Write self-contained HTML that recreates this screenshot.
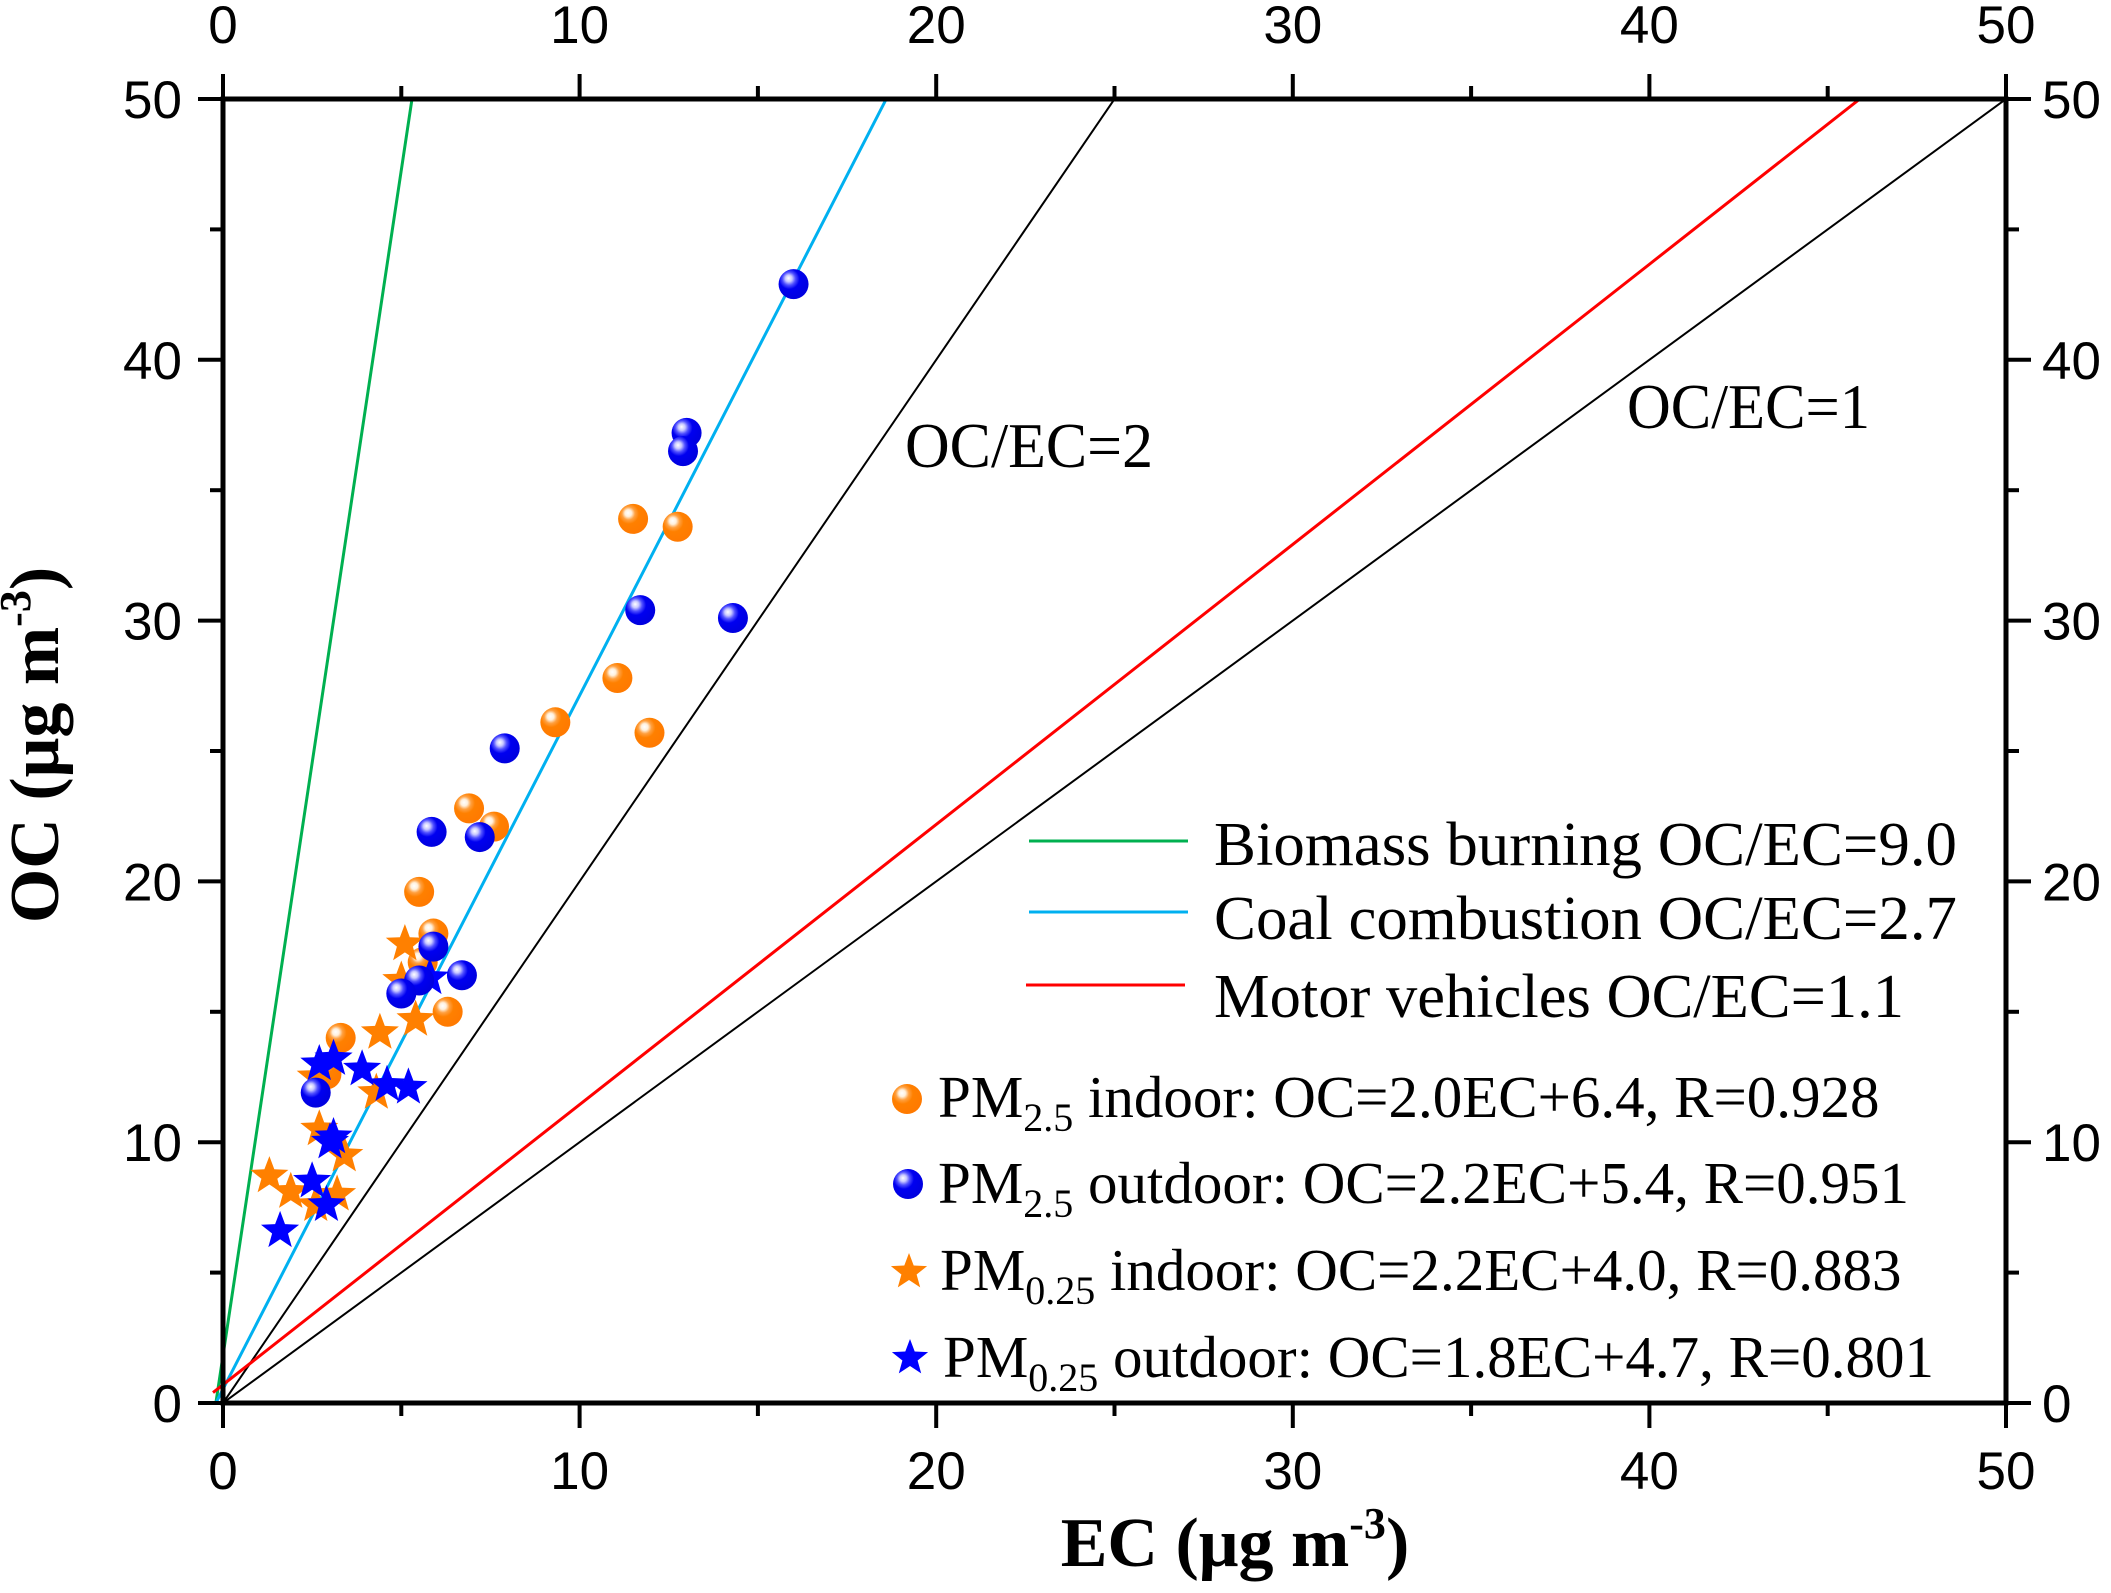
<!DOCTYPE html>
<html><head><meta charset="utf-8">
<style>
html,body{margin:0;padding:0;background:#fff;}
svg{display:block;}
text{font-family:"Liberation Sans",sans-serif;}
.serif{font-family:"Liberation Serif",serif;}
</style></head>
<body>
<svg id="chart" width="2111" height="1593" viewBox="0 0 2111 1593" xmlns="http://www.w3.org/2000/svg">
<defs>
<radialGradient id="gOr" cx="0.38" cy="0.35" r="0.62" fx="0.33" fy="0.3">
<stop offset="0" stop-color="#ffffff"/><stop offset="0.18" stop-color="#fff0dd"/><stop offset="0.35" stop-color="#ffa040"/><stop offset="0.55" stop-color="#ff8000"/><stop offset="1" stop-color="#ff7a00"/>
</radialGradient>
<radialGradient id="gBl" cx="0.38" cy="0.35" r="0.62" fx="0.33" fy="0.3">
<stop offset="0" stop-color="#ffffff"/><stop offset="0.18" stop-color="#c8c8ff"/><stop offset="0.35" stop-color="#5050ff"/><stop offset="0.55" stop-color="#0000f0"/><stop offset="1" stop-color="#0000e0"/>
</radialGradient>
<clipPath id="plotClip"><rect x="200" y="99" width="1806" height="1304"/></clipPath>
</defs>
<g id="lines" clip-path="url(#plotClip)"></g>
<g id="points"></g>
<g id="axes"></g>

<text class="serif" x="905" y="467" font-size="64" textLength="248" lengthAdjust="spacingAndGlyphs">OC/EC=2</text>
<text class="serif" x="1627" y="428" font-size="64" textLength="243" lengthAdjust="spacingAndGlyphs">OC/EC=1</text>

<g>
<line x1="1029" y1="841" x2="1188" y2="841" stroke="#00b050" stroke-width="3"/>
<text class="serif" x="1214" y="865" font-size="62" textLength="743" lengthAdjust="spacingAndGlyphs">Biomass burning OC/EC=9.0</text>
<line x1="1029" y1="912" x2="1188" y2="912" stroke="#00b0f0" stroke-width="3"/>
<text class="serif" x="1214" y="939" font-size="62" textLength="743" lengthAdjust="spacingAndGlyphs">Coal combustion OC/EC=2.7</text>
<line x1="1026" y1="985" x2="1185" y2="985" stroke="#ff0000" stroke-width="3"/>
<text class="serif" x="1214" y="1017" font-size="62" textLength="690" lengthAdjust="spacingAndGlyphs">Motor vehicles OC/EC=1.1</text>

<circle cx="907" cy="1099" r="15" fill="url(#gOr)"/>
<text class="serif" x="938" y="1117" font-size="59">PM<tspan font-size="40" dy="14">2.5</tspan><tspan dy="-14"> indoor: OC=2.0EC+6.4, R=0.928</tspan></text>
<circle cx="908" cy="1184" r="15" fill="url(#gBl)"/>
<text class="serif" x="938" y="1203" font-size="59">PM<tspan font-size="40" dy="14">2.5</tspan><tspan dy="-14"> outdoor: OC=2.2EC+5.4, R=0.951</tspan></text>
<g id="legStar1"></g>
<text class="serif" x="940" y="1290" font-size="59">PM<tspan font-size="40" dy="14">0.25</tspan><tspan dy="-14"> indoor: OC=2.2EC+4.0, R=0.883</tspan></text>
<g id="legStar2"></g>
<text class="serif" x="943" y="1377" font-size="59">PM<tspan font-size="40" dy="14">0.25</tspan><tspan dy="-14"> outdoor: OC=1.8EC+4.7, R=0.801</tspan></text>
</g>

<text class="serif" x="1235" y="1566" text-anchor="middle" font-size="70" font-weight="bold">EC (μg m<tspan font-size="44" dy="-28">-3</tspan><tspan dy="28">)</tspan></text>
<text class="serif" transform="translate(58,745) rotate(-90)" text-anchor="middle" font-size="70" font-weight="bold">OC (μg m<tspan font-size="44" dy="-28">-3</tspan><tspan dy="28">)</tspan></text>
</svg>
<script>
// ---- data ----
const xTicks = [0, 10, 20, 30, 40, 50];
const yTicks = [0, 10, 20, 30, 40, 50];
const refNames = ['biomass', 'coal', 'ocec2', 'motor', 'ocec1'];
const refStartEC = [-0.2, -0.2, 0, -0.28, 0];
const refStartOC = [0, 0, 0, 0.4, 0];
const refEndEC = [5.3, 18.6, 25, 45.9, 50];
const refEndOC = [50, 50, 50, 50, 50];
const pm25InEC = [11.5, 12.75, 11.06, 9.32, 11.96, 6.9, 7.6, 5.5, 5.9, 5.6, 6.3, 3.3, 2.9];
const pm25InOC = [33.9, 33.6, 27.8, 26.1, 25.7, 22.8, 22.1, 19.6, 18.0, 16.9, 15.0, 14.0, 12.6];
const pm25OutEC = [16.0, 13.0, 12.9, 11.7, 14.3, 7.9, 5.85, 7.2, 5.9, 6.7, 5.5, 5.0, 2.6];
const pm25OutOC = [42.9, 37.2, 36.5, 30.4, 30.1, 25.1, 21.9, 21.7, 17.5, 16.4, 16.2, 15.7, 11.9];
const pm025InEC = [1.3, 1.9, 2.7, 3.4, 2.6, 2.6, 4.4, 5.4, 5.1, 4.3, 5.0, 3.2];
const pm025InOC = [8.7, 8.1, 10.5, 9.5, 7.6, 12.5, 14.2, 14.7, 17.6, 11.9, 16.2, 8.0];
const pm025OutEC = [1.6, 2.9, 2.5, 3.1, 3.1, 3.9, 4.6, 5.2, 5.8, 2.7, 3.0];
const pm025OutOC = [6.6, 7.6, 8.5, 10.2, 13.2, 12.8, 12.2, 12.1, 16.3, 13.0, 10.0];

const NS = 'http://www.w3.org/2000/svg';
const X0 = 223, X1 = 2006, Y0 = 1403, Y1 = 99;
const sx = v => X0 + (v / 50) * (X1 - X0);
const sy = v => Y0 - (v / 50) * (Y0 - Y1);
const mk = (tag, attrs, parent) => { const e = document.createElementNS(NS, tag); for (const k in attrs) e.setAttribute(k, attrs[k]); parent.appendChild(e); return e; };
const refColors = ['#00b050', '#00b0f0', '#000', '#ff0000', '#000'];
const refWidths = [3, 3, 2, 3, 2];

const gL = document.getElementById('lines');
refNames.forEach((n, i) => {
  const l = mk('line', {x1: sx(refStartEC[i]), y1: sy(refStartOC[i]), x2: sx(refEndEC[i]), y2: sy(refEndOC[i]), stroke: refColors[i], 'stroke-width': refWidths[i]}, gL);
  
  
});

function starPath(cx, cy, R) {
  const r = R * 0.42; let d = '';
  for (let k = 0; k < 10; k++) {
    const rr = k % 2 ? r : R; const a = -Math.PI / 2 + k * Math.PI / 5;
    d += (k ? 'L' : 'M') + (cx + rr * Math.cos(a)).toFixed(1) + ',' + (cy + rr * Math.sin(a)).toFixed(1);
  }
  return d + 'Z';
}
const gP = document.getElementById('points');
pm25InEC.forEach((v, i) => {
  const c = mk('circle', {cx: sx(v), cy: sy(pm25InOC[i]), r: 15, fill: 'url(#gOr)'}, gP);
  
  
});
pm025InEC.forEach((v, i) => {
  const p = mk('path', {d: starPath(sx(v), sy(pm025InOC[i]), 20), fill: '#ff8000'}, gP);
  
  
});
pm025OutEC.forEach((v, i) => {
  const p = mk('path', {d: starPath(sx(v), sy(pm025OutOC[i]), 20), fill: '#0000ff'}, gP);
  
  
});
pm25OutEC.forEach((v, i) => {
  const c = mk('circle', {cx: sx(v), cy: sy(pm25OutOC[i]), r: 15, fill: 'url(#gBl)'}, gP);
  
  
});
mk('path', {d: starPath(909, 1272, 19), fill: '#ff8000'}, document.getElementById('legStar1'));
mk('path', {d: starPath(910, 1358, 19), fill: '#0000ff'}, document.getElementById('legStar2'));

const gA = document.getElementById('axes');
mk('rect', {x: X0, y: Y1, width: X1 - X0, height: Y0 - Y1, fill: 'none', stroke: '#000', 'stroke-width': 5}, gA);
for (let v = 0; v <= 50; v += 5) {
  const major = v % 10 === 0; const L = major ? 25 : 13;
  const x = sx(v), y = sy(v);
  mk('line', {x1: x, y1: Y0, x2: x, y2: Y0 + L, stroke: '#000', 'stroke-width': 4}, gA);
  mk('line', {x1: x, y1: Y1, x2: x, y2: Y1 - L, stroke: '#000', 'stroke-width': 4}, gA);
  mk('line', {x1: X0, y1: y, x2: X0 - L, y2: y, stroke: '#000', 'stroke-width': 4}, gA);
  mk('line', {x1: X1, y1: y, x2: X1 + L, y2: y, stroke: '#000', 'stroke-width': 4}, gA);
}
xTicks.forEach(v => {
  const t1 = mk('text', {x: sx(v), y: 1489, 'text-anchor': 'middle', 'font-size': 53}, gA); t1.textContent = v;
  
  
  const t2 = mk('text', {x: sx(v), y: 43, 'text-anchor': 'middle', 'font-size': 53}, gA); t2.textContent = v;
  
  
});
yTicks.forEach(v => {
  const t1 = mk('text', {x: 182, y: sy(v) + 19, 'text-anchor': 'end', 'font-size': 53}, gA); t1.textContent = v;
  
  
  const t2 = mk('text', {x: 2042, y: sy(v) + 19, 'text-anchor': 'start', 'font-size': 53}, gA); t2.textContent = v;
  
  
});
</script>
</body></html>
